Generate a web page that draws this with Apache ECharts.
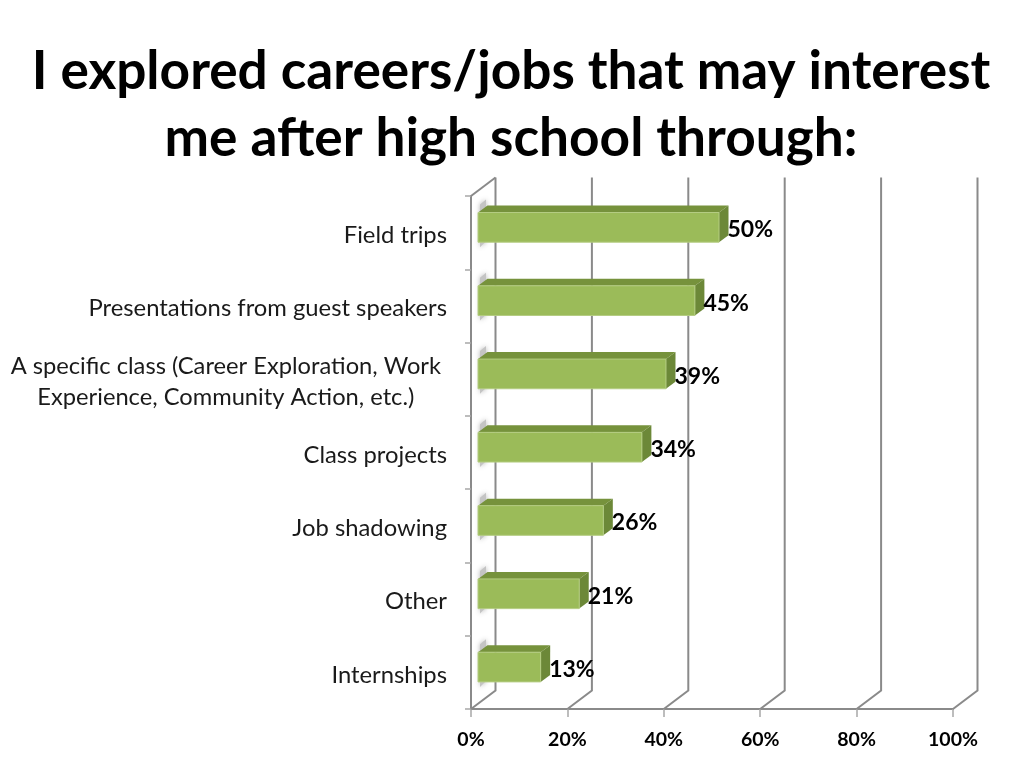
<!DOCTYPE html>
<html><head><meta charset="utf-8">
<style>html,body{margin:0;padding:0;background:#fff}#c{width:1024px;height:768px}</style>
<script src="https://cdn.jsdelivr.net/npm/echarts@6/dist/echarts.min.js"></script>
</head><body><div id="c"></div>
<script>
const titleText = 'I explored careers/jobs that may interest\nme after high school through:';
const categories = ['Field trips','Presentations from guest speakers','A specific class (Career Exploration, Work\nExperience, Community Action, etc.)','Class projects','Job shadowing','Other','Internships'];
const values = [50,45,39,34,26,21,13];
const ticks = [0,20,40,60,80,100];

const FONT = 'Lato, Carlito, Calibri, sans-serif';
const chart = echarts.init(document.getElementById('c'), null, {width:1024,height:768,renderer:'canvas'});
const GRID = '#8a8a8a';
const DX = 24.5, DY = -18.5;

function wallItem(params, api){
  const cs = params.coordSys;
  const x = api.coord([api.value(0), 0])[0];
  const bottom = cs.y + cs.height, top = cs.y;
  const kids = [{
    type:'polyline',
    shape:{points:[[x,bottom],[x+DX,bottom+DY],[x+DX,top+DY]]},
    style:{stroke:GRID,lineWidth:2,fill:null}
  }];
  if (api.value(0) === 0) {
    kids.push({type:'polyline',shape:{points:[[x,top],[x+DX,top+DY]]},style:{stroke:GRID,lineWidth:2,fill:null}});
  }
  return {type:'group',children:kids,silent:true};
}

function barItem(params, api){
  const v = api.value(0);
  const p0 = api.coord([0, api.value(1)]);
  const p1 = api.coord([v, api.value(1)]);
  const band = api.size([0,1])[1];
  const h = band*0.405;
  const ox = 7, oy = -5.3, d = 9.5, e = -7;
  const l = p0[0]+ox, r = p1[0]+ox, t = p0[1]+oy-h/2, b = t+h;
  const poly = (pts,fill)=>({type:'polygon',shape:{points:pts},style:{fill:fill}});
  return {type:'group',children:[
    {type:'polygon',shape:{points:[[l+2,t-8],[l+8,t-13],[l+8,b-1],[l+2,b+5]]},
      style:{fill:'#c4c4c4',shadowBlur:5,shadowColor:'rgba(170,170,170,0.9)'}},
    poly([[l,t],[l+d,t+e],[r+d,t+e],[r,t]],'#76923c'),
    poly([[r,t],[r+d,t+e],[r+d,b+e],[r,b]],'#6c8838'),
    {type:'rect',shape:{x:l,y:t,width:r-l,height:h},style:{
      fill:'#9bbb59',stroke:'#b4cc82',lineWidth:1}},
    {type:'text',style:{text:v+'%',x:r+8.5,y:t+h/2+2.5,fill:'#000',align:'left',verticalAlign:'middle',
      font:'bold 23px '+FONT}}
  ]};
}

chart.setOption({
  animation:false,
  backgroundColor:'#fff',
  title:{text:titleText,left:506,top:33,textAlign:'center',
    textStyle:{fontFamily:FONT,fontWeight:'bold',fontSize:53.2,lineHeight:67,color:'#000'}},
  grid:{left:471,right:71,top:196,bottom:59,containLabel:false},
  xAxis:{type:'value',min:0,max:100,interval:20,
    axisLine:{show:true,onZero:false,lineStyle:{color:GRID,width:2}},
    axisTick:{show:true,length:8,lineStyle:{color:'#a8a8a8',width:1.5}},
    splitLine:{show:false},
    axisLabel:{margin:21,formatter:'{value}%',color:'#000',fontFamily:FONT,fontWeight:'bold',fontSize:19.5}},
  yAxis:{type:'category',inverse:true,data:categories,
    axisLine:{show:true,onZero:false,lineStyle:{color:GRID,width:2}},
    axisTick:{show:true,length:6,lineStyle:{color:'#a8a8a8',width:1.5}},
    splitLine:{show:false},
    axisLabel:{margin:24,interval:0,color:'#1a1a1a',fontFamily:FONT,fontSize:23.8,lineHeight:31,padding:[5,0,0,0],
      formatter:(s)=>s.includes('\n')?s.split('\n').map(x=>'{c|'+x+'}').join('\n'):s,
      rich:{c:{align:'center',padding:[0,6,0,0],fontFamily:FONT,fontSize:23.7,lineHeight:31,color:'#1a1a1a'}}}},
  series:[
    {type:'custom',renderItem:wallItem,data:ticks.map(t=>[t,0]),encode:{x:0,y:1},z:1,silent:true},
    {type:'custom',renderItem:barItem,data:values.map((v,i)=>[v,i]),encode:{x:0,y:1},z:3,silent:true}
  ]
});
</script></body></html>
